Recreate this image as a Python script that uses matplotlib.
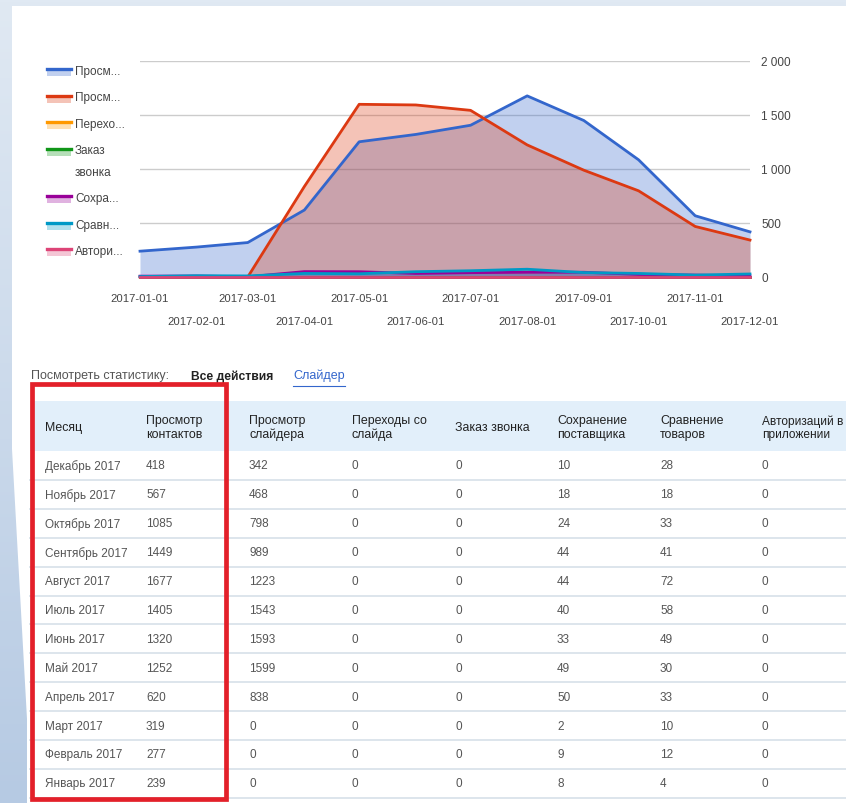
import datetime as dt
import numpy as np
import matplotlib
matplotlib.use('Agg')
import matplotlib.pyplot as plt
import matplotlib.dates as mdates
from matplotlib.patches import Rectangle, Polygon
from matplotlib.colors import LinearSegmentedColormap

plt.rcParams['font.family'] = ['Liberation Sans', 'DejaVu Sans']

# данные, январь -> декабрь 2017
months = ['Январь', 'Февраль', 'Март', 'Апрель', 'Май', 'Июнь',
          'Июль', 'Август', 'Сентябрь', 'Октябрь', 'Ноябрь', 'Декабрь']
contacts = [239, 277, 319, 620, 1252, 1320, 1405, 1677, 1449, 1085, 567, 418]
slider = [0, 0, 0, 838, 1599, 1593, 1543, 1223, 989, 798, 468, 342]
transitions = [0, 0, 0, 0, 0, 0, 0, 0, 0, 0, 0, 0]
calls = [0, 0, 0, 0, 0, 0, 0, 0, 0, 0, 0, 0]
saved = [8, 9, 2, 50, 49, 33, 40, 44, 44, 24, 18, 10]
compare = [4, 12, 10, 33, 30, 49, 58, 72, 41, 33, 18, 28]
auth = [0, 0, 0, 0, 0, 0, 0, 0, 0, 0, 0, 0]

headers = ['Месяц', 'Просмотр\nконтактов', 'Просмотр\nслайдера', 'Переходы со\nслайда',
           'Заказ звонка', 'Сохранение\nпоставщика', 'Сравнение\nтоваров',
           'Авторизаций в\nприложении']
legend_labels = ['Просм...', 'Просм...', 'Перехо...', 'Заказ\nзвонка',
                 'Сохра...', 'Сравн...', 'Автори...']
colors = ['#3366cc', '#dc3912', '#ff9900', '#109618', '#990099', '#0099c6', '#dd4477']
yticks = [0, 500, 1000, 1500, 2000]

series = [contacts, slider, transitions, calls, saved, compare, auth]
dates = [dt.date(2017, m, 1) for m in range(1, 13)]
x = mdates.date2num(dates)

W, H = 846, 804
fig = plt.figure(figsize=(W / 100, H / 100), dpi=100)

# фон (рамка слайда) + белая область
bg = fig.add_axes([0, 0, 1, 1])
cmap = LinearSegmentedColormap.from_list('frame', ['#e0e9f3', '#b6cae3'])
bg.imshow(np.linspace(0, 1, 256).reshape(-1, 1), extent=[0, W, H, 0],
          cmap=cmap, aspect='auto', zorder=0)
bg.add_patch(Polygon([(12, 7), (W, 7), (W, H), (27, H), (27, 720), (12, 450)],
                     closed=True, fc='white', ec='none', zorder=1))
bg.set_xlim(0, W)
bg.set_ylim(H, 0)
bg.axis('off')

# --- график ---
ax = fig.add_axes([140 / W, 1 - 278 / H, 610 / W, 216 / H])
ax.patch.set_alpha(0)
for y, c in zip(series, colors):
    ax.fill_between(x, y, 0, color=c, alpha=0.3, lw=0, zorder=2)
for y, c in zip(series, colors):
    ax.plot(x, y, color=c, lw=2, zorder=3, clip_on=False)

ax.set_xlim(x[0], x[-1])
ax.set_ylim(0, 2000)
ax.set_yticks(yticks, labels=['{:,}'.format(v).replace(',', ' ') for v in yticks])
ax.yaxis.tick_right()
ax.tick_params(axis='y', length=0, pad=8, labelsize=8.5, labelcolor='#444444')
ax.grid(axis='y', color='#cccccc', lw=1, zorder=0)
ax.set_axisbelow(True)
for s in ax.spines.values():
    s.set_visible(False)

ax.set_xticks(x[0::2], labels=[d.isoformat() for d in dates[0::2]])
ax.set_xticks(x[1::2], labels=[d.isoformat() for d in dates[1::2]], minor=True)
ax.tick_params(axis='x', which='major', length=0, pad=11.5, labelsize=8.1, labelcolor='#444444')
ax.tick_params(axis='x', which='minor', length=0, pad=28, labelsize=8.1, labelcolor='#444444')

# легенда слева
ly = 72
for lab, c in zip(legend_labels, colors):
    bg.add_patch(Rectangle((47, ly - 3), 24, 8, fc=c, alpha=0.3, lw=0, zorder=3))
    bg.plot([47, 71], [ly - 2, ly - 2], color=c, lw=2.4, zorder=4)
    for k, part in enumerate(lab.split('\n')):
        bg.text(75, ly + 21 * k, part, fontsize=8.5, color='#444444', va='center', zorder=4)
    ly += 26.5 + 21 * (len(lab.split('\n')) - 1)

# --- строка над таблицей ---
bg.text(31, 376, 'Посмотреть статистику:', fontsize=9, color='#555555', va='center', zorder=4)
bg.text(191, 377, 'Все действия', fontsize=8.7, color='#222222', weight='bold',
        va='center', zorder=4)
link = bg.text(293, 376, 'Слайдер', fontsize=9, color='#3366cc', va='center', zorder=4)
fig.canvas.draw()
inv = bg.transData.inverted()
bb = link.get_window_extent().transformed(inv)
bg.plot([bb.x0, bb.x1], [387, 387], color='#3366cc', lw=0.8, zorder=4)

# --- таблица ---
col_x = [45, 146, 249, 352, 455, 557, 660, 762]
head_top, head_bot, row_h = 402, 452, 28.9
bg.add_patch(Rectangle((30, head_top), W - 30, head_bot - head_top,
                       fc='#e2effa', ec='none', zorder=2))
head_texts = []
for cx, h in zip(col_x, headers):
    t = bg.text(cx, (head_top + head_bot) / 2 + 1, h, fontsize=8.9, color='#222222',
                va='center', ha='left', linespacing=1.15, zorder=4)
    head_texts.append(t)
# последний заголовок в оригинале упирается в край - чуть уменьшаем, чтобы влез
fig.canvas.draw()
t = head_texts[-1]
while t.get_window_extent().transformed(inv).x1 > W - 1 and t.get_fontsize() > 6:
    t.set_fontsize(t.get_fontsize() - 0.1)

columns = [contacts, slider, transitions, calls, saved, compare, auth]
n = len(months)
for j in range(n):
    m = n - 1 - j  # декабрь сверху
    yc = head_bot + row_h * (j + 0.5)
    bg.text(col_x[0], yc, months[m] + ' 2017', fontsize=8.5, color='#555555',
            va='center', zorder=4)
    for cx, col in zip(col_x[1:], columns):
        bg.text(cx, yc, str(col[m]), fontsize=8.5, color='#555555', va='center', zorder=4)
    bg.plot([30, W], [head_bot + row_h * (j + 1)] * 2, color='#dae3eb', lw=1.3, zorder=3)

# красная рамка
bg.add_patch(Rectangle((32, 385), 193.5, 415, fill=False, ec='#e3202a', lw=3.4, zorder=6))

fig.savefig('out.png', dpi=100)
